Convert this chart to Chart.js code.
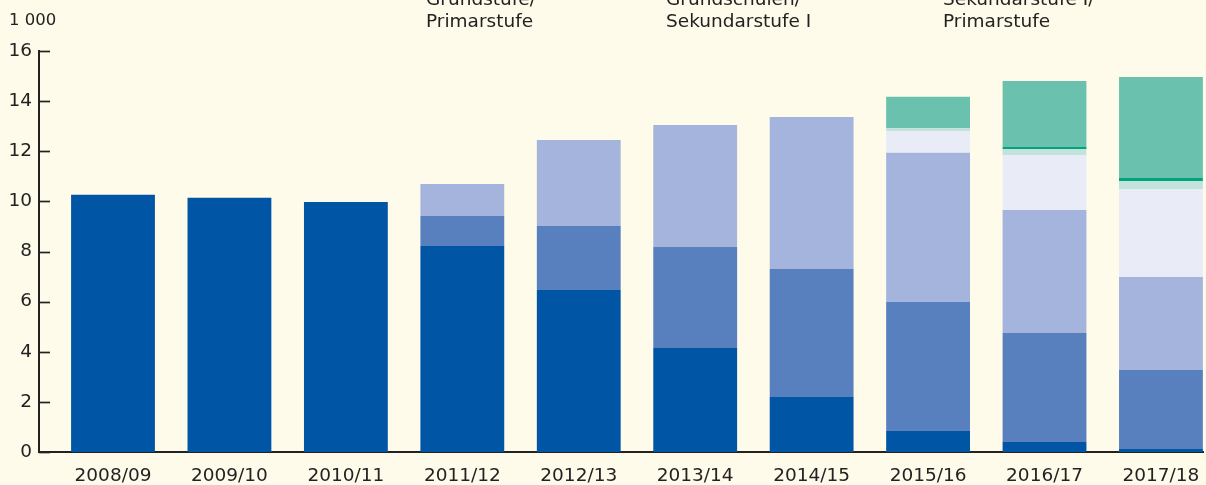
<!DOCTYPE html>
<html>
<head>
<meta charset="utf-8">
<script src="https://cdn.jsdelivr.net/npm/chart.js@4/dist/chart.umd.min.js"></script>
<style>
    body { margin: 0; background: #fffbea; }
    #wrap { width: 1206px; height: 485px; position: relative; }
</style>
</head>
<body>
<div id="wrap"><canvas id="myChart"></canvas></div>
<script>
var categories = ['2008/09', '2009/10', '2010/11', '2011/12', '2012/13', '2013/14', '2014/15', '2015/16', '2016/17', '2017/18'];

// Werte in 1 000, von unten nach oben gestapelt
var dunkelblau = [10.26, 10.14, 9.98, 8.22, 6.46, 4.15, 2.19, 0.84, 0.40, 0.12];
var mittelblau = [0, 0, 0, 1.20, 2.56, 4.03, 5.11, 5.15, 4.35, 3.15];
var hellblau   = [0, 0, 0, 1.27, 3.43, 4.87, 6.07, 5.95, 4.91, 3.71];
var lavendel   = [0, 0, 0, 0, 0, 0, 0, 0.87, 2.19, 3.51];
var blassgruen = [0, 0, 0, 0, 0, 0, 0, 0.12, 0.24, 0.32];
var dunkelgruen = [0, 0, 0, 0, 0, 0, 0, 0, 0.08, 0.12];
var gruen      = [0, 0, 0, 0, 0, 0, 0, 1.24, 2.63, 4.03];

var yTicks = [0, 2, 4, 6, 8, 10, 12, 14, 16];
var topLabels = [
    ['Grundstufe/', 'Primarstufe'],
    ['Grundschulen/', 'Sekundarstufe I'],
    ['Sekundarstufe I/', 'Primarstufe']
];
var topLabelX = [426, 666, 943];
var unitLabel = '1 000';

function points(arr) {
    return arr.map(function (v, i) { return { x: i, y: v }; });
}

Chart.defaults.font.family = 'DejaVu Sans';
Chart.defaults.color = '#222';

var textPlugin = {
    id: 'texte',
    afterDraw: function (chart) {
        var c = chart.ctx;
        var y = chart.scales.y;
        var left = chart.chartArea.left;
        c.save();
        // Teilstriche nach innen
        c.strokeStyle = '#222';
        c.lineWidth = 1.7;
        yTicks.forEach(function (v) {
            var py = Math.round(y.getPixelForValue(v)) + 0.5;
            c.beginPath();
            c.moveTo(left, py);
            c.lineTo(left + 11, py);
            c.stroke();
        });
        c.fillStyle = '#222';
        c.textBaseline = 'alphabetic';
        c.textAlign = 'left';
        c.font = '16.5px "DejaVu Sans"';
        c.fillText(unitLabel, 9, 25);
        c.font = '18.5px "DejaVu Sans"';
        topLabels.forEach(function (lines, i) {
            lines.forEach(function (t, j) {
                c.fillText(t, topLabelX[i], 5 + j * 21.5);
            });
        });
        c.restore();
    }
};

var ctx = document.getElementById('myChart').getContext('2d');
var myBarChart = new Chart(ctx, {
    type: 'bar',
    data: {
        datasets: [
            { label: 'Dunkelblau', data: points(dunkelblau), backgroundColor: '#0055a4' },
            { label: 'Mittelblau', data: points(mittelblau), backgroundColor: '#5880bf' },
            { label: 'Hellblau', data: points(hellblau), backgroundColor: '#a5b4dc' },
            { label: 'Lavendel', data: points(lavendel), backgroundColor: '#e9ebf7' },
            { label: 'Blassgrün', data: points(blassgruen), backgroundColor: '#c1e3d9' },
            { label: 'Dunkelgrün', data: points(dunkelgruen), backgroundColor: '#00a382' },
            { label: 'Grün', data: points(gruen), backgroundColor: '#6ac1ae' }
        ]
    },
    options: {
        responsive: true,
        maintainAspectRatio: false,
        animation: false,
        categoryPercentage: 1,
        barPercentage: 0.72,
        borderWidth: 0,
        layout: {
            padding: { left: 0, right: 3, top: 51, bottom: 0 }
        },
        scales: {
            x: {
                type: 'linear',
                stacked: true,
                offset: false,
                min: -0.6355,
                max: 9.3611,
                afterFit: function (s) { s.height = 33; },
                ticks: {
                    stepSize: 1,
                    includeBounds: false,
                    autoSkip: false,
                    maxRotation: 0,
                    padding: 5,
                    color: '#222',
                    font: { size: 18.5 },
                    callback: function (v) { return categories[v] !== undefined ? categories[v] : ''; }
                },
                grid: { display: false },
                border: { display: true, color: '#222', width: 2 }
            },
            y: {
                stacked: true,
                min: 0,
                max: 16,
                afterFit: function (s) { s.width = 39; },
                afterBuildTicks: function (s) {
                    s.ticks = yTicks.map(function (v) { return { value: v }; });
                },
                ticks: {
                    padding: 7,
                    color: '#222',
                    font: { size: 18.5 }
                },
                grid: { display: false, drawTicks: false },
                border: { display: true, color: '#222', width: 2 }
            }
        },
        plugins: {
            legend: { display: false },
            tooltip: { enabled: false }
        }
    },
    plugins: [textPlugin]
});
</script>
</body>
</html>
